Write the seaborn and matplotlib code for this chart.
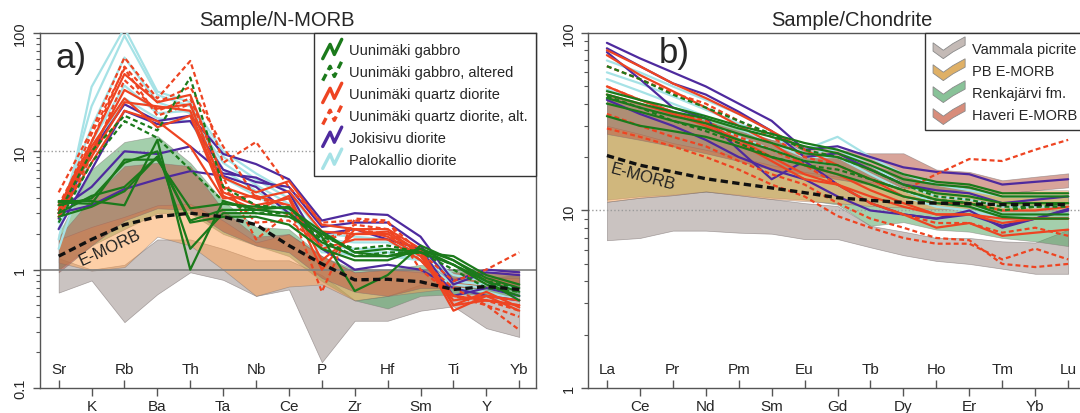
import numpy as np
import pandas as pd
import matplotlib
matplotlib.use('Agg')
import matplotlib.pyplot as plt
import seaborn as sns
from matplotlib.lines import Line2D
from matplotlib.patches import Patch, Polygon
from matplotlib.legend_handler import HandlerBase
from matplotlib.ticker import NullFormatter

nm_elements = ['Sr', 'K', 'Rb', 'Ba', 'Th', 'Ta', 'Nb', 'Ce', 'P', 'Zr', 'Hf', 'Sm', 'Ti', 'Y', 'Yb']
ree_elements = ['La', 'Ce', 'Pr', 'Nd', 'Pm', 'Sm', 'Eu', 'Gd', 'Tb', 'Dy', 'Ho', 'Er', 'Tm', 'Yb', 'Lu']

# --- samples, N-MORB normalised ---
palo_nm = [
    [1.8, 35, 110, 32, 26, 10, 6.5, 4.5, 2.0, 1.9, 1.8, 1.5, 0.8, 0.75, 0.6],
    [2.5, 24, 95, 30, 24, 9, 5.8, 4.0, 1.8, 1.7, 1.7, 1.4, 0.9, 0.8, 0.65],
    [3.0, 16, 62, 26, 21, 8, 5.2, 3.6, 1.6, 1.5, 1.5, 1.3, 0.8, 0.75, 0.7],
    [2.2, 12, 36, 21, 22, 7, 4.6, 3.2, 1.4, 1.4, 1.4, 1.2, 0.7, 0.65, 0.55],
    [1.5, 10, 28, 19, 18, 6, 4.2, 3.0, 1.5, 1.3, 1.3, 1.2, 0.75, 0.7, 0.6],
]
joki_nm = [
    [2.7, 10, 25, 18, 20, 9.5, 7.8, 5.8, 2.6, 3.0, 2.9, 1.9, 0.8, 1.0, 0.95],
    [2.2, 7, 22, 17, 18, 7, 5.5, 5.0, 2.3, 2.5, 2.5, 1.6, 0.75, 0.95, 0.9],
    [3.2, 5, 10, 9.5, 11, 6.5, 6.0, 4.5, 1.5, 1.0, 1.1, 1.0, 0.7, 0.6, 0.55],
    [3.0, 3.5, 4.8, 5.8, 6.8, 6.2, 5.0, 3.0, 2.0, 2.2, 1.8, 1.5, 0.6, 0.7, 0.6],
]
qd_nm = [
    [3.2, 12, 45, 26, 30, 6, 4.5, 5.6, 2.4, 2.2, 2.2, 1.5, 0.5, 0.55, 0.5],
    [3.0, 10, 33, 23, 25, 5, 4.0, 4.6, 2.1, 2.0, 2.0, 1.4, 0.45, 0.6, 0.55],
    [3.5, 9, 26, 24, 22, 4.5, 3.5, 4.0, 1.0, 2.2, 1.9, 1.3, 0.55, 0.6, 0.45],
    [2.8, 8, 22, 18, 11, 4, 4.2, 3.5, 1.5, 1.8, 1.8, 1.2, 0.6, 0.55, 0.5],
    [3.0, 11, 28, 16, 20, 4.2, 3.2, 4.2, 1.2, 2.0, 2.1, 1.4, 0.5, 0.65, 0.48],
]
qd_alt_nm = [
    [4.5, 15, 62, 28, 58, 8, 12, 5.0, 2.5, 2.6, 2.5, 1.4, 0.8, 1.0, 1.4],
    [3.5, 12, 52, 26, 35, 11, 4.0, 3.5, 0.65, 2.7, 2.6, 1.0, 0.6, 0.5, 0.4],
    [2.8, 9, 40, 22, 28, 6, 1.8, 3.0, 1.8, 2.2, 2.0, 1.2, 0.7, 0.5, 0.31],
    [3.2, 14, 50, 20, 25, 5, 2.5, 2.6, 1.6, 2.4, 2.2, 1.3, 0.6, 0.55, 0.45],
]
gab_nm = [
    [3.8, 3.8, 3.5, 12.5, 1.0, 3.8, 3.2, 3.4, 1.9, 0.66, 0.9, 1.6, 1.2, 0.8, 0.55],
    [3.5, 4.0, 8.0, 10, 1.5, 3.0, 3.0, 2.8, 2.0, 1.4, 1.3, 1.5, 1.2, 0.85, 0.7],
    [3.0, 4.2, 5.0, 9.0, 2.6, 3.2, 3.2, 3.0, 1.7, 1.3, 1.3, 1.4, 1.1, 0.8, 0.65],
    [2.8, 3.4, 4.6, 9.0, 2.5, 2.8, 2.8, 2.4, 1.5, 1.2, 1.2, 1.5, 1.1, 0.75, 0.6],
    [3.7, 3.6, 8.5, 8.5, 3.3, 3.6, 3.4, 3.3, 2.1, 1.4, 1.5, 1.4, 1.3, 0.9, 0.75],
]
gab_alt_nm = [
    [3.0, 10, 20, 15, 42, 5, 3.5, 3.3, 1.9, 1.5, 1.6, 1.4, 1.0, 0.7, 0.65],
    [2.5, 8, 18, 13, 7, 3.8, 3.0, 3.0, 1.8, 1.3, 1.4, 1.4, 1.1, 0.8, 0.7],
]

# --- samples, chondrite normalised ---
palo_ch = [
    [70, 60, 50, 42, 35, 28, 22, 26, 20, 16, 14, 13, 12, 12, 12],
    [60, 52, 44, 37, 31, 26, 21, 22, 18, 14, 12, 11.5, 10.5, 10.5, 10.5],
    [55, 47, 40, 34, 29, 24, 20, 20, 16, 13, 11, 10.5, 9.5, 9.5, 9.5],
    [48, 42, 36, 31, 26, 22, 19, 18, 15, 12, 10.5, 10, 9, 9, 9],
]
joki_ch = [
    [88, 72, 60, 50, 40, 32, 22, 23, 20, 17.5, 16.5, 16, 14, 14.5, 15],
    [82, 65, 52, 45, 36, 28, 20, 21, 17, 14, 13, 12.5, 11, 11.5, 12],
    [78, 55, 38, 33, 22, 15, 19, 14, 11, 9.5, 9, 10, 8, 9, 10],
    [42, 35, 30, 25, 20, 17, 15, 12, 10, 9.5, 9, 9.5, 8.2, 9, 10.2],
]
qd_ch = [
    [80, 65, 52, 43, 35, 28, 22, 18, 15, 12, 11, 11, 10, 10, 10.5],
    [75, 58, 47, 38, 30, 24, 18, 16, 13, 11, 9.5, 9.5, 8.5, 9, 9],
    [50, 42, 36, 31, 25, 20, 16, 14, 11, 9.5, 8, 8.5, 7.2, 7.5, 7.8],
    [45, 40, 35, 30, 24, 19, 15, 14, 12, 10.5, 9.5, 9.5, 9, 9, 9],
]
qd_alt_ch = [
    [65, 55, 46, 40, 32, 26, 20, 18, 15, 13, 16, 19.5, 19, 22, 25],
    [50, 42, 36, 32, 26, 22, 18, 14, 11, 9.5, 8.5, 8.5, 7.5, 8, 7.2],
    [29, 26, 23, 20, 17, 14, 12, 9.3, 8, 7, 6.5, 6.5, 5.3, 6.1, 5.3],
    [35, 30, 26, 23, 19, 16, 14, 11, 9, 8, 7.0, 6.8, 5.0, 4.8, 5.0],
]
gab_ch = [
    [47, 42, 38, 34, 30, 27, 24, 22, 19, 16, 14.5, 14, 12.5, 12.5, 12.5],
    [45, 40, 36, 33, 29, 26, 23, 21, 18, 15, 14, 13.5, 12, 12, 12],
    [43, 38, 34, 31, 27, 24, 21, 20, 17, 14, 12.5, 12, 11, 11, 11],
    [40, 36, 32, 29, 25, 22, 19, 18, 15, 13, 11.5, 11, 9.5, 9.5, 9.5],
    [34, 30, 28, 26, 23, 20, 18, 16, 14, 12, 11, 10.5, 9.2, 9, 9],
]
gab_alt_ch = [
    [65, 55, 45, 38, 32, 27, 22, 20, 17, 14, 12, 11.5, 10.5, 10.5, 10.5],
    [44, 38, 32, 28, 24, 20, 18, 17, 15, 13, 11.5, 11, 10, 10.5, 11],
]

# --- reference E-MORB ---
emorb_nm = [1.3, 1.8, 2.4, 2.8, 3.0, 2.8, 2.4, 1.6, 1.12, 0.82, 0.83, 0.79, 0.68, 0.72, 0.68]
emorb_ch = [20.4, 18, 16.5, 15.1, 14.2, 13.4, 12.6, 11.8, 11.4, 11.1, 11.0, 10.9, 10.8, 10.8, 10.8]

# --- comparison fields (low, high) ---
picrite_nm_lo = [0.64, 0.81, 0.36, 0.62, 0.95, 0.82, 0.60, 0.68, 0.165, 0.37, 0.37, 0.45, 0.49, 0.32, 0.27]
picrite_nm_hi = [1.25, 1.0, 1.1, 1.8, 1.8, 1.5, 1.2, 1.2, 0.9, 0.55, 0.6, 0.75, 0.8, 0.85, 0.9]
pb_nm_lo = [1.15, 0.98, 1.05, 1.9, 1.6, 1.0, 0.6, 0.72, 0.75, 0.55, 0.6, 0.65, 0.7, 0.75, 0.75]
pb_nm_hi = [1.8, 2.3, 2.8, 3.5, 3.6, 2.6, 1.7, 2.0, 1.3, 0.95, 1.0, 0.95, 0.85, 0.85, 0.85]
renk_nm_lo = [1.0, 1.6, 2.2, 3.0, 3.0, 2.0, 1.6, 1.3, 0.8, 0.55, 0.47, 0.6, 0.62, 0.62, 0.6]
renk_nm_hi = [2.0, 7.0, 12.0, 13.5, 8.0, 3.8, 2.3, 2.2, 1.3, 1.0, 1.0, 1.1, 1.0, 0.95, 0.9]
haveri_nm_lo = [0.95, 1.6, 2.6, 3.3, 3.2, 2.1, 1.6, 1.4, 0.85, 0.65, 0.6, 0.7, 0.7, 0.7, 0.7]
haveri_nm_hi = [1.9, 4.0, 7.5, 8.0, 7.5, 3.2, 1.9, 2.0, 1.3, 0.95, 1.0, 1.0, 0.95, 0.95, 1.0]

picrite_ch_lo = [6.8, 7.0, 7.7, 7.7, 7.5, 7.4, 6.9, 6.9, 6.2, 5.6, 5.2, 5.0, 4.7, 4.4, 4.4]
picrite_ch_hi = [11.2, 11.8, 12.2, 12.8, 12.2, 11.6, 11.0, 10.6, 8.2, 7.6, 7.0, 7.0, 6.7, 6.6, 7.8]
pb_ch_lo = [11.2, 11.8, 12.2, 12.8, 12.2, 11.6, 11.3, 11.0, 10.6, 10.4, 10.2, 10.2, 10.0, 10.0, 10.0]
pb_ch_hi = [30, 27, 24, 22, 20, 18, 16.5, 15.5, 14.5, 13.5, 13, 13, 12.5, 13, 13]
renk_ch_lo = [11.5, 12, 12.3, 12.8, 12.3, 11.8, 11.5, 10.8, 8.2, 8.6, 7.8, 7.6, 7.0, 6.7, 6.3]
renk_ch_hi = [45, 40, 36, 33, 29, 25, 22, 20, 18, 16, 14, 13.5, 12, 12, 12]
haveri_ch_lo = [27, 25, 23, 21, 19, 17, 16, 15, 14, 13.5, 13, 13, 12.5, 13, 13.5]
haveri_ch_hi = [45, 40, 36, 32, 28, 25, 23, 22, 21, 21, 17, 16.5, 14.8, 15.5, 16.2]

sample_names = ['Palokallio diorite', 'Jokisivu diorite', 'Uunimäki quartz diorite',
                'Uunimäki quartz diorite, alt.', 'Uunimäki gabbro, altered', 'Uunimäki gabbro']
legend_order = ['Uunimäki gabbro', 'Uunimäki gabbro, altered', 'Uunimäki quartz diorite',
                'Uunimäki quartz diorite, alt.', 'Jokisivu diorite', 'Palokallio diorite']
line_colors = {'Palokallio diorite': '#a6e2e6', 'Jokisivu diorite': '#4e2a9e',
               'Uunimäki quartz diorite': '#ee4422', 'Uunimäki quartz diorite, alt.': '#ee4422',
               'Uunimäki gabbro, altered': '#1b7a1b', 'Uunimäki gabbro': '#1b7a1b'}
line_dashes = {'Palokallio diorite': '', 'Jokisivu diorite': '', 'Uunimäki quartz diorite': '',
               'Uunimäki quartz diorite, alt.': (2.2, 1.4), 'Uunimäki gabbro, altered': (2.2, 1.4),
               'Uunimäki gabbro': ''}
field_names = ['Vammala picrite', 'PB E-MORB', 'Renkajärvi fm.', 'Haveri E-MORB']
field_fill = {'Vammala picrite': ('#a89c98', 0.6), 'Renkajärvi fm.': ('#4aa05a', 0.5),
              'PB E-MORB': ('#fca050', 0.5), 'Haveri E-MORB': ('#b85a48', 0.55)}
field_legend = {'Vammala picrite': '#c4bab6', 'PB E-MORB': '#dfb066',
                'Renkajärvi fm.': '#88c298', 'Haveri E-MORB': '#d88c7a'}


class ZigLine(HandlerBase):
    def create_artists(self, legend, orig, xd, yd, w, h, fs, trans):
        xs = np.array([0.05, 0.4, 0.6, 0.95]) * w - xd
        ys = np.array([-0.05, 0.8, 0.2, 1.1]) * h - yd
        ln = Line2D(xs, ys)
        ln.update_from(orig)
        ln.set_linewidth(2.4)
        ln.set_transform(trans)
        return [ln]


class ZigPatch(HandlerBase):
    def create_artists(self, legend, orig, xd, yd, w, h, fs, trans):
        cx = np.array([0.0, 0.32, 0.62, 1.0]) * w - xd
        cy = np.array([0.6, 0.1, 0.55, 1.0]) * h - yd
        t = 0.28 * h
        pts = np.vstack([np.column_stack([cx, cy + t]), np.column_stack([cx[::-1], cy[::-1] - t])])
        p = Polygon(pts, closed=True, facecolor=orig.get_facecolor(), edgecolor='#8a8a8a',
                    lw=0.6, transform=trans)
        return [p]


def long_table(groups):
    rows = []
    for name, samples in groups:
        for k, vals in enumerate(samples):
            for i, v in enumerate(vals):
                rows.append((name, f'{name}-{k}', i, v))
    return pd.DataFrame(rows, columns=['group', 'sample', 'pos', 'value'])


sns.set_theme(style='ticks')
plt.rcParams['font.family'] = ['Liberation Sans', 'DejaVu Sans']

fig = plt.figure(figsize=(10.8, 4.14), dpi=100)
ax1 = fig.add_axes([0.0368, 0.0604, 0.4595, 0.8575])
ax2 = fig.add_axes([0.5444, 0.0604, 0.4602, 0.8575])

panels = [
    (ax1, nm_elements, [palo_nm, joki_nm, qd_nm, qd_alt_nm, gab_alt_nm, gab_nm], emorb_nm,
     [(picrite_nm_lo, picrite_nm_hi), (pb_nm_lo, pb_nm_hi), (renk_nm_lo, renk_nm_hi),
      (haveri_nm_lo, haveri_nm_hi)], (0.1, 100)),
    (ax2, ree_elements, [palo_ch, joki_ch, qd_ch, qd_alt_ch, gab_alt_ch, gab_ch], emorb_ch,
     [(picrite_ch_lo, picrite_ch_hi), (pb_ch_lo, pb_ch_hi), (renk_ch_lo, renk_ch_hi),
      (haveri_ch_lo, haveri_ch_hi)], (1, 100)),
]

draw_fields = ['Vammala picrite', 'Renkajärvi fm.', 'PB E-MORB', 'Haveri E-MORB']

for ax, elements, samples, emorb, fields, ylim in panels:
    x = np.arange(len(elements))
    ax.set_yscale('log')
    fdict = dict(zip(field_names, fields))
    for fname in draw_fields:
        lo, hi = fdict[fname]
        c, a = field_fill[fname]
        ax.fill_between(x, lo, hi, facecolor=c, alpha=a, edgecolor='#7a7070', lw=0.5, zorder=1)
    ax.axhline(10, color='#9a9a9a', ls=':', lw=1.0, zorder=1.2)
    if ax is ax1:
        ax.axhline(1, color='#808080', lw=1.2, zorder=1.5)
    df = long_table(list(zip(sample_names, samples)))
    sns.lineplot(data=df, x='pos', y='value', hue='group', style='group', units='sample',
                 estimator=None, hue_order=sample_names, style_order=sample_names,
                 palette=line_colors, dashes=line_dashes, linewidth=1.6, legend=False,
                 sort=False, ax=ax, zorder=3)
    ax.plot(x, emorb, color='#111111', lw=2.4, dashes=(2.2, 1.3), zorder=4)

    ax.set_xlim(-0.575, 14.51)
    ax.set_ylim(*ylim)
    odd = x[1::2]
    even = x[0::2]
    ax.set_xticks(odd, [elements[i] for i in odd])
    ax.set_xticks(even, [elements[i] for i in even], minor=True)
    ax.tick_params(axis='x', which='major', direction='out', length=6, width=1,
                   color='#555555', pad=2, labelsize=11)
    ax.tick_params(axis='x', which='minor', direction='in', length=6, width=1,
                   color='#555555', pad=-19, labelsize=11)
    yt = [v for v in [0.1, 1, 10, 100] if ylim[0] <= v <= ylim[1]]
    ax.set_yticks(yt, [f'{v:g}' for v in yt], va='center')
    ax.yaxis.set_minor_formatter(NullFormatter())
    ax.tick_params(axis='y', which='major', direction='out', length=5, width=1,
                   color='#555555', pad=4, labelsize=10.5, labelrotation=90)
    ax.tick_params(axis='y', which='minor', direction='out', length=3, width=0.8,
                   color='#555555')
    ax.set_xlabel('')
    ax.set_ylabel('')
    for s in ax.spines.values():
        s.set_color('#555555')
        s.set_linewidth(1.0)

ax1.text(1.56, 1.57, 'E-MORB', rotation=25, ha='center', va='center', fontsize=12,
         color='#222222', zorder=5)
ax2.text(1.09, 15.5, 'E-MORB', rotation=-15, ha='center', va='center', fontsize=12,
         color='#222222', zorder=5)
ax1.text(0.031, 0.932, 'a)', transform=ax1.transAxes, fontsize=25, ha='left', va='center')
ax2.text(0.143, 0.946, 'b)', transform=ax2.transAxes, fontsize=25, ha='left', va='center')
fig.text(277 / 1080, 1 - 20 / 414, 'Sample/N-MORB', ha='center', va='center', fontsize=14.5)
fig.text(852 / 1080, 1 - 20 / 414, 'Sample/Chondrite', ha='center', va='center', fontsize=14.5)

line_handles = [Line2D([], [], color=line_colors[n],
                       dashes=line_dashes[n] if line_dashes[n] else (None, None),
                       label=n) for n in legend_order]
leg1 = ax1.legend(handles=line_handles, handler_map={Line2D: ZigLine()}, loc='upper right',
                  borderaxespad=0, fontsize=10.5, handlelength=1.45, handleheight=1.4,
                  labelspacing=0.35, handletextpad=0.45, borderpad=0.55, fancybox=False,
                  framealpha=1, edgecolor='#333333')
leg1.get_frame().set_linewidth(1.0)
leg1.set_zorder(10)

patch_handles = [Patch(facecolor=field_legend[n], label=n) for n in field_names]
leg2 = ax2.legend(handles=patch_handles, handler_map={Patch: ZigPatch()}, loc='upper right',
                  borderaxespad=0, fontsize=10.5, handlelength=2.2, handleheight=1.2,
                  labelspacing=0.45, handletextpad=0.45, borderpad=0.55, fancybox=False,
                  framealpha=1, edgecolor='#333333')
leg2.get_frame().set_linewidth(1.0)
leg2.set_zorder(10)

fig.savefig('out.png', dpi=100)
